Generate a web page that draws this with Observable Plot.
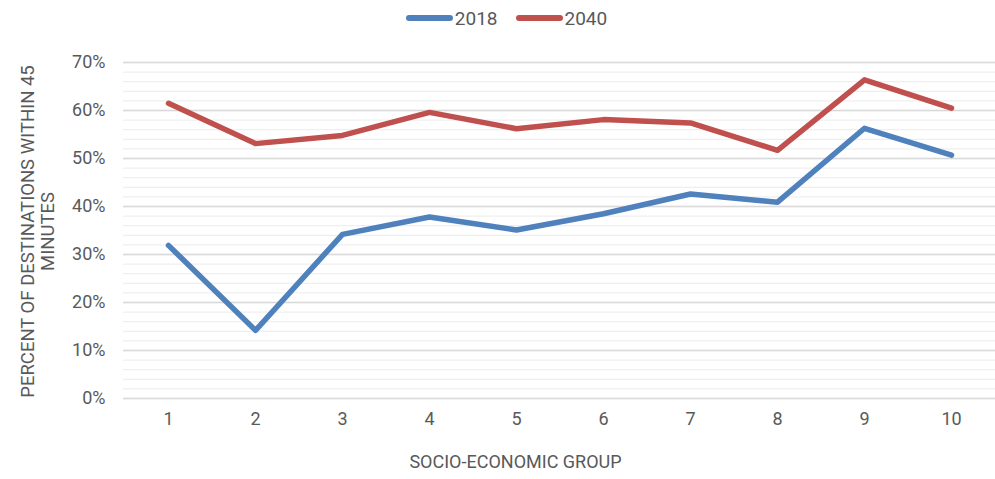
<!DOCTYPE html>
<html><head><meta charset="utf-8">
<script src="https://cdn.jsdelivr.net/npm/d3@7"></script>
<script src="https://cdn.jsdelivr.net/npm/@observablehq/plot@0.6"></script>
<style>
body{margin:0;background:#fff;font-family:Roboto, "Liberation Sans", sans-serif;}
#legend{height:36px;display:flex;justify-content:center;align-items:center;gap:18px;font-size:19px;color:#595959;padding-left:18px;box-sizing:border-box;}
.item{display:flex;align-items:center;gap:2px;}
.sw{width:47px;height:6px;border-radius:3px;}
</style></head><body>
<div id="legend"></div><div id="chart"></div>
<script>
const groups = [1, 2, 3, 4, 5, 6, 7, 8, 9, 10];
const share2018 = [0.319, 0.142, 0.342, 0.378, 0.351, 0.385, 0.426, 0.409, 0.563, 0.507];
const share2040 = [0.615, 0.531, 0.548, 0.596, 0.562, 0.581, 0.574, 0.517, 0.664, 0.605];
const seriesNames = ["2018", "2040"];
const seriesColors = ["#4f81bd", "#c0504d"];
const yTicks = [0, 0.1, 0.2, 0.3, 0.4, 0.5, 0.6, 0.7];
const minorTicks = d3.range(0, 0.7001, 0.02);
const xTitle = "SOCIO-ECONOMIC GROUP";
const yTitle = "PERCENT OF DESTINATIONS WITHIN 45\nMINUTES";

const data = [];
groups.forEach((g, i) => {
  data.push({group: g, series: seriesNames[0], value: share2018[i]});
  data.push({group: g, series: seriesNames[1], value: share2040[i]});
});

const legend = document.getElementById("legend");
seriesNames.forEach((s, i) => {
  const it = document.createElement("div");
  it.className = "item";
  it.innerHTML = `<span class="sw" style="background:${seriesColors[i]}"></span><span>${s}</span>`;
  legend.appendChild(it);
});

const textColor = "#595959";
const chart = Plot.plot({
  width: 995,
  height: 443,
  marginTop: 26,
  marginBottom: 81,
  marginLeft: 123,
  marginRight: 0,
  style: {fontFamily: "Roboto, 'Liberation Sans', sans-serif", color: textColor, background: "#fff", overflow: "visible"},
  x: {type: "point", domain: groups, padding: 0.5},
  y: {domain: [0, 0.7]},
  color: {domain: seriesNames, range: seriesColors},
  marks: [
    Plot.ruleY(minorTicks, {stroke: "#efefef", strokeWidth: 1.3}),
    Plot.ruleY(yTicks, {stroke: "#d9d9d9", strokeWidth: 1.5}),
    Plot.axisX({tickSize: 0, tickPadding: 14, fontSize: 18, fill: textColor, label: null}),
    Plot.axisY({ticks: yTicks, tickSize: 0, tickPadding: 18, fontSize: 18, fill: textColor, label: null, tickFormat: d3.format(".0%")}),
    Plot.line(data, {x: "group", y: "value", stroke: "series", strokeWidth: 5.5, strokeLinecap: "round", strokeLinejoin: "round"}),
    Plot.text([xTitle], {text: d => d, frameAnchor: "bottom", dx: -44, dy: 69, fontSize: 18, fill: textColor}),
    Plot.text([yTitle], {text: d => d, frameAnchor: "left", textAnchor: "middle", rotate: -90, dx: -86, dy: 1, lineHeight: 1.08, fontSize: 18.5, fill: textColor})
  ]
});
document.getElementById("chart").appendChild(chart);
</script>
</body></html>
